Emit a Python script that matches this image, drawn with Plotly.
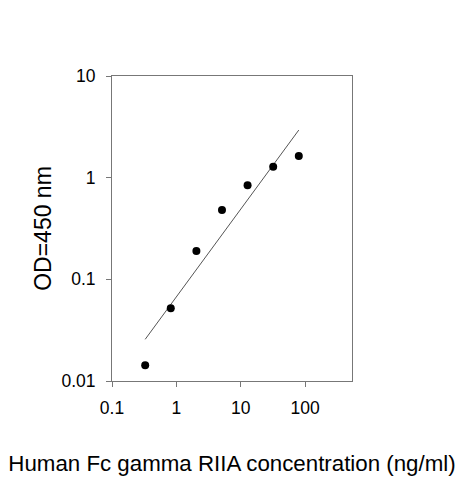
import plotly.graph_objects as go

# ELISA standard curve
conc = [0.328, 0.819, 2.05, 5.12, 12.8, 32, 80]
od = [0.0143, 0.052, 0.19, 0.48, 0.84, 1.28, 1.63]

# fitted line end points
fit_x = [0.328, 80]
fit_y = [0.0257, 2.94]

x_ticks = [0.1, 1, 10, 100]
x_labels = ["0.1", "1", "10", "100"]
y_ticks = [0.01, 0.1, 1, 10]
y_labels = ["0.01", "0.1", "1", "10"]

FONT = "Liberation Sans, Arial"

fig = go.Figure()

fig.add_trace(go.Scatter(x=fit_x, y=fit_y, mode="lines",
                         line=dict(color="#555555", width=1),
                         showlegend=False, hoverinfo="skip"))

fig.add_trace(go.Scatter(x=conc, y=od, mode="markers",
                         marker=dict(color="black", size=8),
                         showlegend=False))

axis_style = dict(showgrid=False, zeroline=False, showline=True,
                  linecolor="#777777", linewidth=1, mirror=True,
                  ticks="outside", ticklen=5, tickcolor="#777777",
                  tickfont=dict(family=FONT, size=17.5, color="black"))

fig.update_xaxes(type="log", range=[-1, 2.73],
                 tickvals=x_ticks, ticktext=x_labels,
                 ticklabelstandoff=6,
                 title=dict(text="Human Fc gamma RIIA concentration (ng/ml)",
                            font=dict(family=FONT, size=22.3, color="black"),
                            standoff=38),
                 **axis_style)
fig.update_yaxes(type="log", range=[-2, 1],
                 tickvals=y_ticks, ticktext=y_labels,
                 ticklabelstandoff=7,
                 title=dict(text="OD=450 nm",
                            font=dict(family=FONT, size=23, color="black"),
                            standoff=3),
                 **axis_style)

# page body adds 8px, so margins are shifted back by that much
fig.update_layout(width=463, height=480,
                  margin=dict(l=104, r=119, t=68, b=107),
                  plot_bgcolor="white", paper_bgcolor="white")

fig.write_html("out.html")
